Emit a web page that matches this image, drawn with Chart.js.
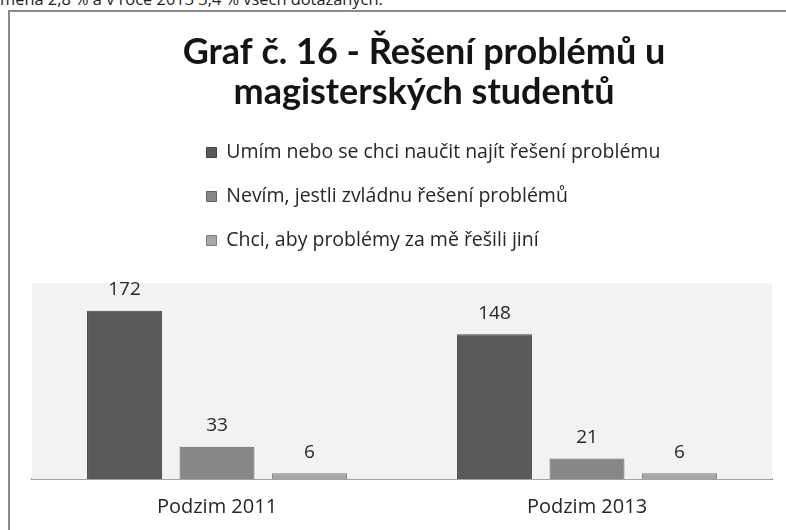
<!DOCTYPE html>
<html>
<head>
    <title>Graf 16</title>
    <meta charset="utf-8" />
    <script src="https://cdn.jsdelivr.net/npm/chart.js@4.4.0/dist/chart.umd.min.js"></script>
    <style>
      body { margin: 0; overflow: hidden; background: #fff; width: 786px; height: 530px; }
      #uvod { position: absolute; left: 0; top: -11px; font-family: "Open Sans"; font-size: 16.4px; line-height: 20px; color: #222; white-space: nowrap; }
      #ramecek { position: absolute; left: 8px; top: 10px; width: 1000px; height: 600px; border-left: 2px solid #8a8a8a; border-top: 2px solid #8a8a8a; }
      #kontejner { position: absolute; left: 0; top: 0; width: 830px; height: 545px; }
    </style>
</head>
<body>
    <div id="uvod">mena 2,8 % a v roce 2013 3,4 % všech dotázaných.</div>
    <div id="ramecek"></div>
    <div id="kontejner"><canvas id="graf" width="830" height="545"></canvas></div>
<script>
    // data z grafu
    let obdobi = ["Podzim 2011", "Podzim 2013"];
    let nadpis = ["Graf č. 16 - Řešení problémů u", "magisterských studentů"];
    let umim = [172, 148];
    let nevim = [33, 21];
    let jini = [6, 6];
    let nazvy = ["Umím nebo se chci naučit najít řešení problému", "Nevím, jestli zvládnu řešení problémů", "Chci, aby problémy za mě řešili jiní"];

    // sede pozadi plochy grafu
    let pozadi = {
      id: 'pozadi',
      beforeDatasetsDraw(chart) {
        let a = chart.chartArea;
        let ctx = chart.ctx;
        ctx.save();
        ctx.fillStyle = '#f2f2f2';
        ctx.fillRect(a.left, a.top, a.right - a.left, a.bottom - a.top);
        ctx.restore();
      }
    };

    // legenda: kazda polozka na svem radku, mezera pod ni, posun doprava
    let legenda = {
      id: 'legenda',
      beforeInit(chart) {
        let puvodni = chart.legend.fit;
        chart.legend.fit = function() {
          puvodni.bind(this)();
          let l = this.options.labels;
          this.height = this.chart.data.datasets.length * (l.font.size + l.padding) + 10 + 23;
        };
      },
      afterLayout(chart) {
        chart.legend.left = 182;
      }
    };

    // hodnoty nad sloupci
    let popisky = {
      id: 'popisky',
      afterDatasetsDraw(chart) {
        let ctx = chart.ctx;
        ctx.save();
        ctx.font = '19px "Open Sans"';
        ctx.fillStyle = '#262626';
        ctx.textAlign = 'center';
        ctx.textBaseline = 'middle';
        chart.data.datasets.forEach((ds, i) => {
          chart.getDatasetMeta(i).data.forEach((bar, j) => {
            ctx.fillText(ds.data[j], bar.x, bar.y - 21);
          });
        });
        ctx.restore();
      }
    };

    let graf = new Chart(document.getElementById("graf"), {
      type: 'bar',
      data: {
        labels: obdobi,
        datasets: [
          { label: nazvy[0], data: umim, backgroundColor: "#595959", borderColor: "#454545", borderWidth: 1 },
          { label: nazvy[1], data: nevim, backgroundColor: "#878787", borderColor: "#626262", borderWidth: 1 },
          { label: nazvy[2], data: jini, backgroundColor: "#a6a6a6", borderColor: "#7e7e7e", borderWidth: 1 }
        ]
      },
      options: {
        responsive: false,
        animation: false,
        layout: { padding: { left: 32, right: 14, top: 0, bottom: 10 } },
        datasets: { bar: { categoryPercentage: 0.75, barPercentage: 0.81 } },
        plugins: {
          title: {
            display: true,
            text: nadpis,
            color: '#141414',
            font: { family: 'Lato', size: 36, weight: 'bold', lineHeight: 1.111 },
            padding: { top: 32, bottom: 6.25 }
          },
          legend: {
            display: true,
            position: 'top',
            align: 'start',
            labels: {
              font: { family: 'Open Sans', size: 19.5 },
              color: '#262626',
              boxWidth: 10,
              boxHeight: 10,
              padding: 24.5
            }
          },
          tooltip: { enabled: false }
        },
        scales: {
          x: {
            grid: { display: false, drawTicks: false },
            border: { display: true, color: '#a3a3a3', width: 2 },
            ticks: { font: { family: 'Open Sans', size: 20 }, color: '#262626', padding: 16 }
          },
          y: {
            position: 'right',
            min: 0,
            max: 200,
            grid: { display: false, drawTicks: false },
            border: { display: false },
            ticks: { display: false },
            afterFit: s => { s.width = 44; }
          }
        }
      },
      plugins: [pozadi, legenda, popisky]
    });
</script>
</body>
</html>
